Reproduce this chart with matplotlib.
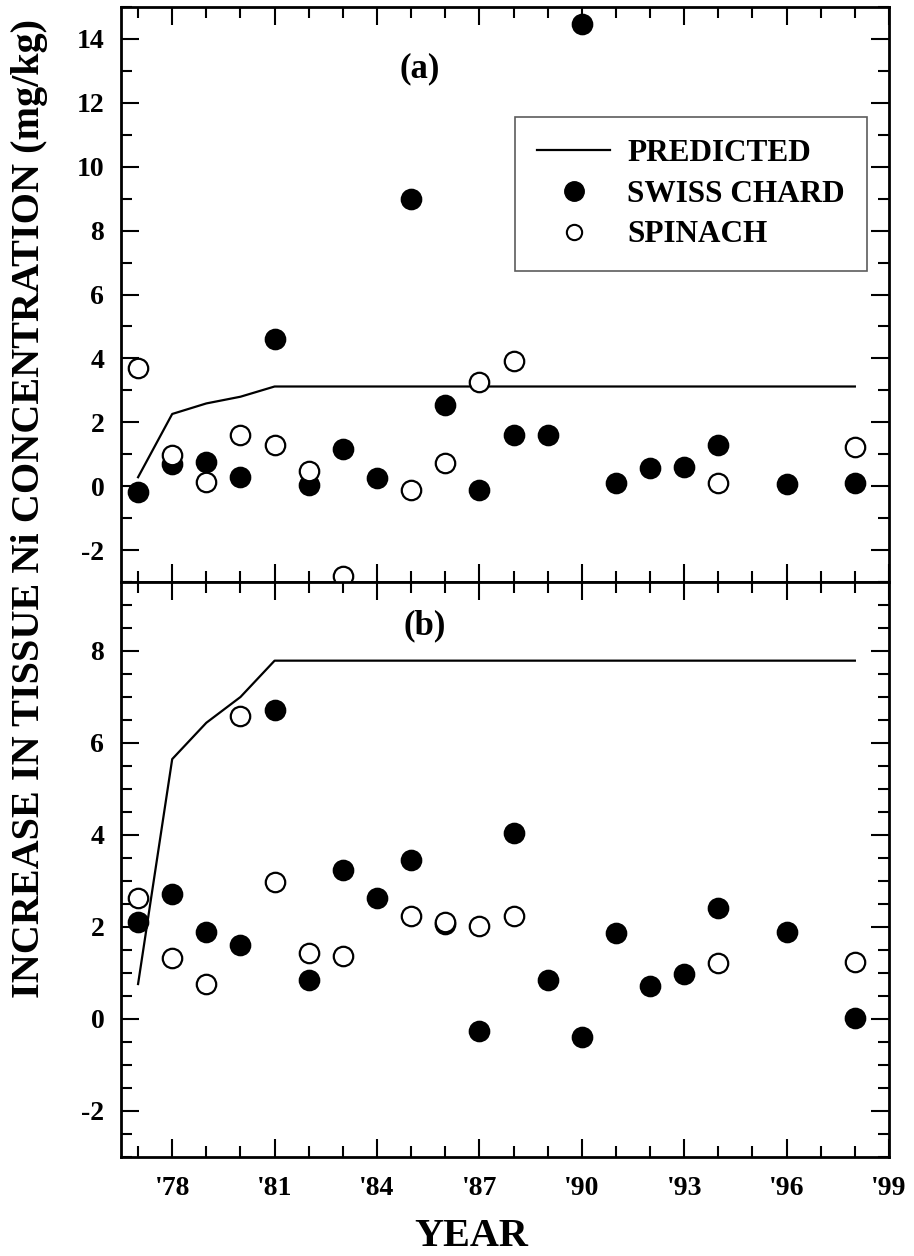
import matplotlib
matplotlib.use("Agg")
import matplotlib.pyplot as plt
from matplotlib.ticker import MultipleLocator, FixedLocator
from matplotlib.lines import Line2D

plt.rcParams['font.family'] = ['Liberation Serif', 'DejaVu Serif']
plt.rcParams['font.weight'] = 'bold'

# ---------------- data ----------------
pred_years = [1977, 1978, 1979, 1980, 1981, 1998]
pred_a = [0.28, 2.26, 2.59, 2.80, 3.12, 3.12]
pred_b = [0.76, 5.65, 6.44, 7.00, 7.79, 7.79]

chard_years = [1977, 1978, 1979, 1980, 1981, 1982, 1983, 1984, 1985, 1986, 1987,
               1988, 1989, 1990, 1991, 1992, 1993, 1994, 1996, 1998]
chard_a = [-0.17, 0.70, 0.77, 0.28, 4.62, 0.04, 1.17, 0.26, 8.98, 2.54, -0.12,
           1.60, 1.60, 14.48, 0.11, 0.56, 0.59, 1.29, 0.07, 0.09]
chard_b = [2.11, 2.71, 1.90, 1.60, 6.71, 0.84, 3.23, 2.63, 3.46, 2.06, -0.25,
           4.04, 0.85, -0.40, 1.88, 0.72, 0.98, 2.41, 1.90, 0.03]

spin_years = [1977, 1978, 1979, 1980, 1981, 1982, 1983, 1985, 1986, 1987, 1988, 1994, 1998]
spin_a = [3.69, 0.99, 0.14, 1.61, 1.30, 0.47, -2.82, -0.11, 0.74, 3.27, 3.93, 0.11, 1.24]
spin_b = [2.62, 1.33, 0.76, 6.59, 2.97, 1.43, 1.37, 2.25, 2.11, 2.02, 2.24, 1.21, 1.24]

xtick_vals = [1978, 1981, 1984, 1987, 1990, 1993, 1996, 1999]
xtick_labels = ["'78", "'81", "'84", "'87", "'90", "'93", "'96", "'99"]
yticks_a = [-2, 0, 2, 4, 6, 8, 10, 12, 14]
yticks_b = [-2, 0, 2, 4, 6, 8]

# ---------------- figure ----------------
W, H = 914, 1256
fig = plt.figure(figsize=(W / 100, H / 100), dpi=100)

left = 121 / W
right = 889 / W
y_top_a = 1 - 7 / H
y_mid = 1 - 582 / H
y_bot_b = 1 - 1157 / H

ax_a = fig.add_axes([left, y_mid, right - left, y_top_a - y_mid])
ax_b = fig.add_axes([left, y_bot_b, right - left, y_mid - y_bot_b])

MS = 14
MEW = 1.6

for ax, pred, ch, sp in [(ax_a, pred_a, chard_a, spin_a), (ax_b, pred_b, chard_b, spin_b)]:
    ax.plot(pred_years, pred, color='black', lw=1.6, zorder=2)
    ax.plot(chard_years, ch, linestyle='none', marker='o', ms=MS,
            mfc='black', mec='black', mew=MEW, zorder=3)
    ax.plot(spin_years, sp, linestyle='none', marker='o', ms=MS,
            mfc='white', mec='black', mew=MEW, zorder=4)
    ax.set_xlim(1976.5, 1999)
    ax.xaxis.set_major_locator(FixedLocator(xtick_vals))
    ax.xaxis.set_minor_locator(MultipleLocator(1))
    for s in ax.spines.values():
        s.set_linewidth(2.0)
    ax.tick_params(which='both', direction='in', top=True, right=True, width=1.5)
    ax.tick_params(which='major', length=13)
    ax.tick_params(which='minor', length=8)
    ax.tick_params(axis='y', labelsize=20, pad=12)
    ax.tick_params(axis='x', labelsize=20, pad=14)

ax_a.set_ylim(-3, 15)
ax_a.set_yticks(yticks_a)
ax_a.yaxis.set_minor_locator(MultipleLocator(1))
ax_a.set_xticklabels([])
ax_a.set_yticklabels([str(v) for v in yticks_a], fontweight='bold')

ax_b.set_ylim(-3, 9.5)
ax_b.set_yticks(yticks_b)
ax_b.yaxis.set_minor_locator(MultipleLocator(0.5))
ax_b.set_yticklabels([str(v) for v in yticks_b], fontweight='bold')
ax_b.set_xticklabels(xtick_labels, fontweight='bold')

ax_a.text(0.389, 0.892, '(a)', transform=ax_a.transAxes, fontsize=25,
          fontweight='bold', ha='center', va='center')
ax_b.text(0.395, 0.923, '(b)', transform=ax_b.transAxes, fontsize=25,
          fontweight='bold', ha='center', va='center')

handles = [
    Line2D([], [], color='black', lw=1.6),
    Line2D([], [], linestyle='none', marker='o', ms=14, mfc='black', mec='black'),
    Line2D([], [], linestyle='none', marker='o', ms=11, mfc='white', mec='black', mew=1.5),
]
leg = ax_a.legend(handles, ['PREDICTED', 'SWISS CHARD', 'SPINACH'],
                  loc='upper left', bbox_to_anchor=(0.513, 0.809),
                  prop={'size': 22.5, 'weight': 'bold'}, frameon=True, fancybox=False,
                  edgecolor='#333333', handlelength=2.35, handletextpad=0.55,
                  borderpad=0.7, labelspacing=0.38, borderaxespad=0.0)
leg.get_frame().set_linewidth(1.2)

fig.text(471 / W, 1 - 1236 / H, 'YEAR', fontsize=29, fontweight='bold',
         ha='center', va='center')
fig.text(30 / W, 1 - 509 / H, 'INCREASE IN TISSUE Ni CONCENTRATION (mg/kg)',
         fontsize=29, fontweight='bold', rotation=90, ha='center', va='center')

fig.savefig('out.png', dpi=100)
